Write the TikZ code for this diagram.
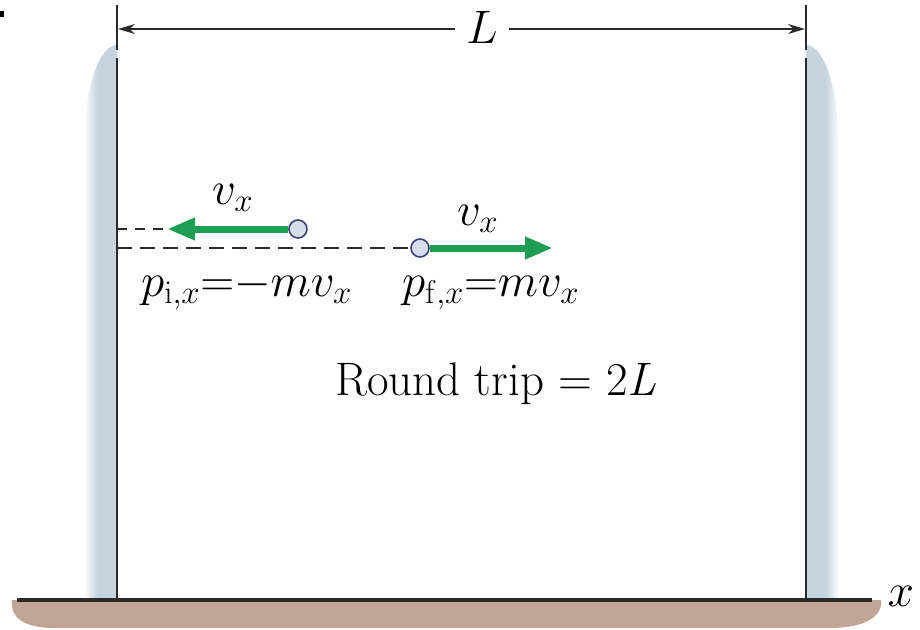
\RequirePackage{fix-cm}
\documentclass[tikz,border=0pt]{standalone}
\usetikzlibrary{arrows.meta}
\definecolor{wallc}{HTML}{C5D4DF}
\definecolor{floorc}{HTML}{C1A594}
\definecolor{greenc}{HTML}{1E9E55}
\definecolor{ballfill}{HTML}{D6DFE9}
\definecolor{balldraw}{HTML}{3E4178}
\definecolor{linec}{HTML}{2A2A2A}
\pgfdeclarehorizontalshading{wallshL}{100bp}{color(0bp)=(white); color(25bp)=(white); color(45bp)=(wallc); color(75bp)=(wallc); color(100bp)=(wallc)}
\pgfdeclarehorizontalshading{wallshR}{100bp}{color(0bp)=(wallc); color(25bp)=(wallc); color(55bp)=(wallc); color(75bp)=(white); color(100bp)=(white)}
\begin{document}
\begin{tikzpicture}[x=1pt,y=-1pt,
  wallline/.style={line width=2.4pt, draw=linec},
  dimarrow/.style={line width=1.4pt, draw=linec, -{Stealth[length=17pt,width=10pt]}},
  dashline/.style={line width=1.4pt, draw=linec, dash pattern=on 15pt off 8pt},
  shortdash/.style={line width=1.4pt, draw=linec, dash pattern=on 10pt off 8pt},
  garrow/.style={line width=7pt, draw=greenc, -{Triangle[length=28pt,width=21pt]}},
  ball/.style={circle, draw=balldraw, fill=ballfill, line width=1.6pt, minimum size=18pt, inner sep=0pt},
  bigmath/.style={font=\fontsize{47}{50}\selectfont, inner sep=0pt},
  bigtext/.style={font=\fontsize{47}{52}\selectfont, inner sep=0pt}]
\useasboundingbox (0,0) rectangle (920,629);
% corner mark
\fill[black] (0,11) rectangle (4,17);
% floor
\fill[floorc] (12,600) -- (881,600) .. controls (883,618) and (862,628) .. (830,628) -- (55,628) .. controls (20,628) and (10,615) .. (12,600) -- cycle;
% wall shading
\shade[shading=wallshL] (84,600) -- (84,150) .. controls (84,85) and (100,45) .. (117,45) -- (117,600) -- cycle;
\shade[shading=wallshR] (806,45) .. controls (823,45) and (839,85) .. (839,150) -- (839,600) -- (806,600) -- cycle;
% walls
\coordinate (LWtop) at (117,58);
\coordinate (LWbot) at (117,600);
\coordinate (RWtop) at (806,58);
\coordinate (RWbot) at (806,600);
\coordinate (LTa) at (117,5);
\coordinate (LTb) at (117,50);
\coordinate (RTa) at (806,5);
\coordinate (RTb) at (806,50);
\draw[wallline] (LWtop) -- (LWbot);
\draw[wallline] (RWtop) -- (RWbot);
\draw[wallline] (LTa) -- (LTb);
\draw[wallline] (RTa) -- (RTb);
% dimension
\coordinate (LW) at (118,29);
\coordinate (RW) at (805,29);
\node[font=\fontsize{47}{50}\selectfont, inner ysep=0pt, inner xsep=11pt, fill=white, anchor=base] (Llab) at (482,43) {$L$};
\draw[dimarrow] (Llab.west |- LW) -- (LW);
\draw[dimarrow] (Llab.east |- RW) -- (RW);
% floor line
\coordinate (F1) at (17,600);
\coordinate (F2) at (872,600);
\draw[line width=3.4pt, draw=linec] (F1) -- (F2);
\node[bigmath] (xlab) at (901,596) {$x$};
% particles
\node[ball] (b1) at (298,229) {};
\node[ball] (b2) at (420,248) {};
\coordinate (a1) at (167,229);
\coordinate (a2) at (553,248);
\coordinate (d1s) at (117,229);
\coordinate (d1e) at (163,229);
\coordinate (d2s) at (117,248);
\draw[shortdash] (d1s) -- (d1e);
\draw[dashline] (d2s) -- (b2.west);
\draw[garrow] (b1.west) -- (a1);
\draw[garrow] (b2.east) -- (a2);
% labels
\node[bigmath, anchor=base west] (v1) at (212,204) {$v_x$};
\node[bigmath, anchor=base west] (v2) at (457,225) {$v_x$};
\node[bigmath, anchor=base west] (p1) at (141,296) {$p_{\mathrm{i},x}{=}{-}mv_x$};
\node[bigmath, anchor=base west] (p2) at (402,296) {$p_{\mathrm{f},x}{=}mv_x$};
\node[bigtext, anchor=base west] (rt) at (335,395) {Round trip = 2\textit{L}};
\end{tikzpicture}
\end{document}
